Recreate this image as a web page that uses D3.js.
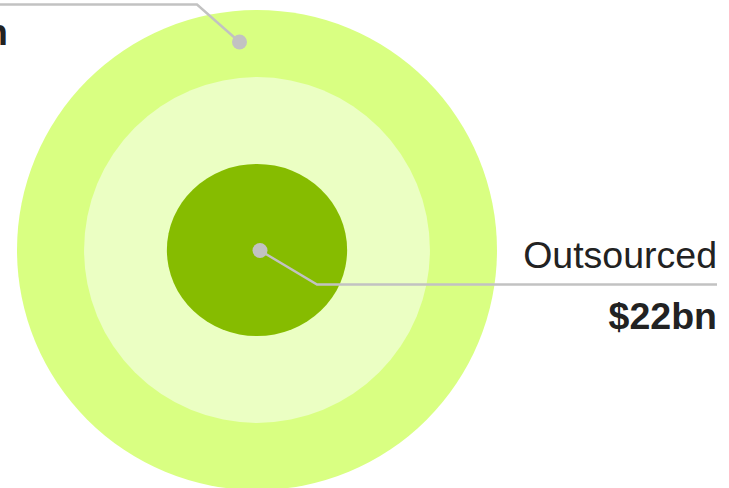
<!DOCTYPE html>
<html lang="en">
<head>
<meta charset="utf-8">
<title>Outsourced spend</title>
<script src="https://d3js.org/d3.v7.min.js"></script>
<style>
  html, body { margin: 0; padding: 0; background: #fff; }
  svg { display: block; font-family: "Liberation Sans", Arial, sans-serif; }
</style>
</head>
<body>
<svg></svg>
<script>
// data
var rings = ["Total", "Addressable", "Outsourced"];
var values = [156, 81, 22];          // $bn, area of each ring
var fills = ["#d9ff82", "#ebffc3", "#86bc00"];
var labelNames = ["Total", "Outsourced"];
var labelValues = ["$156bn", "$22bn"];

var w = 729, h = 488;
var cx = 257, cy = 250;

var svg = d3.select("svg").attr("width", w).attr("height", h);

// area-proportional radius
var r = d3.scaleSqrt().domain([0, d3.max(values)]).range([0, 240]);

svg.selectAll("ellipse.ring")
  .data(values)
  .enter()
  .append("ellipse")
  .attr("class", "ring")
  .attr("cx", cx)
  .attr("cy", cy)
  .attr("rx", d => r(d))
  .attr("ry", (d, i) => i === 2 ? r(d) * 0.955 : r(d))
  .attr("fill", (d, i) => fills[i]);

// callouts: dot, elbow, end of rule, label baseline, value baseline
var callouts = [
  {dot: [239.5, 42], elbow: [197, 4.5], end: [-20, 4.5], lab: -13, val: 45, x: 8},
  {dot: [260, 250.5], elbow: [317, 284.5], end: [717, 284.5], lab: 268, val: 329, x: 717}
];

var line = d3.line();

var g = svg.selectAll("g.callout")
  .data(callouts)
  .enter()
  .append("g")
  .attr("class", "callout");

g.append("path")
  .attr("d", d => line([d.dot, d.elbow, d.end]))
  .attr("fill", "none")
  .attr("stroke", "#c2c2c2")
  .attr("stroke-width", 2.4);

g.append("circle")
  .attr("cx", d => d.dot[0])
  .attr("cy", d => d.dot[1])
  .attr("r", 7.5)
  .attr("fill", "#c2c2c2");

g.append("text")
  .attr("x", d => d.x)
  .attr("y", d => d.lab)
  .attr("text-anchor", "end")
  .attr("font-size", 37.5)
  .attr("fill", "#222")
  .text((d, i) => labelNames[i]);

g.append("text")
  .attr("x", d => d.x)
  .attr("y", d => d.val)
  .attr("text-anchor", "end")
  .attr("font-size", 37.5)
  .attr("font-weight", "bold")
  .attr("fill", "#222")
  .text((d, i) => labelValues[i]);
</script>
</body>
</html>
